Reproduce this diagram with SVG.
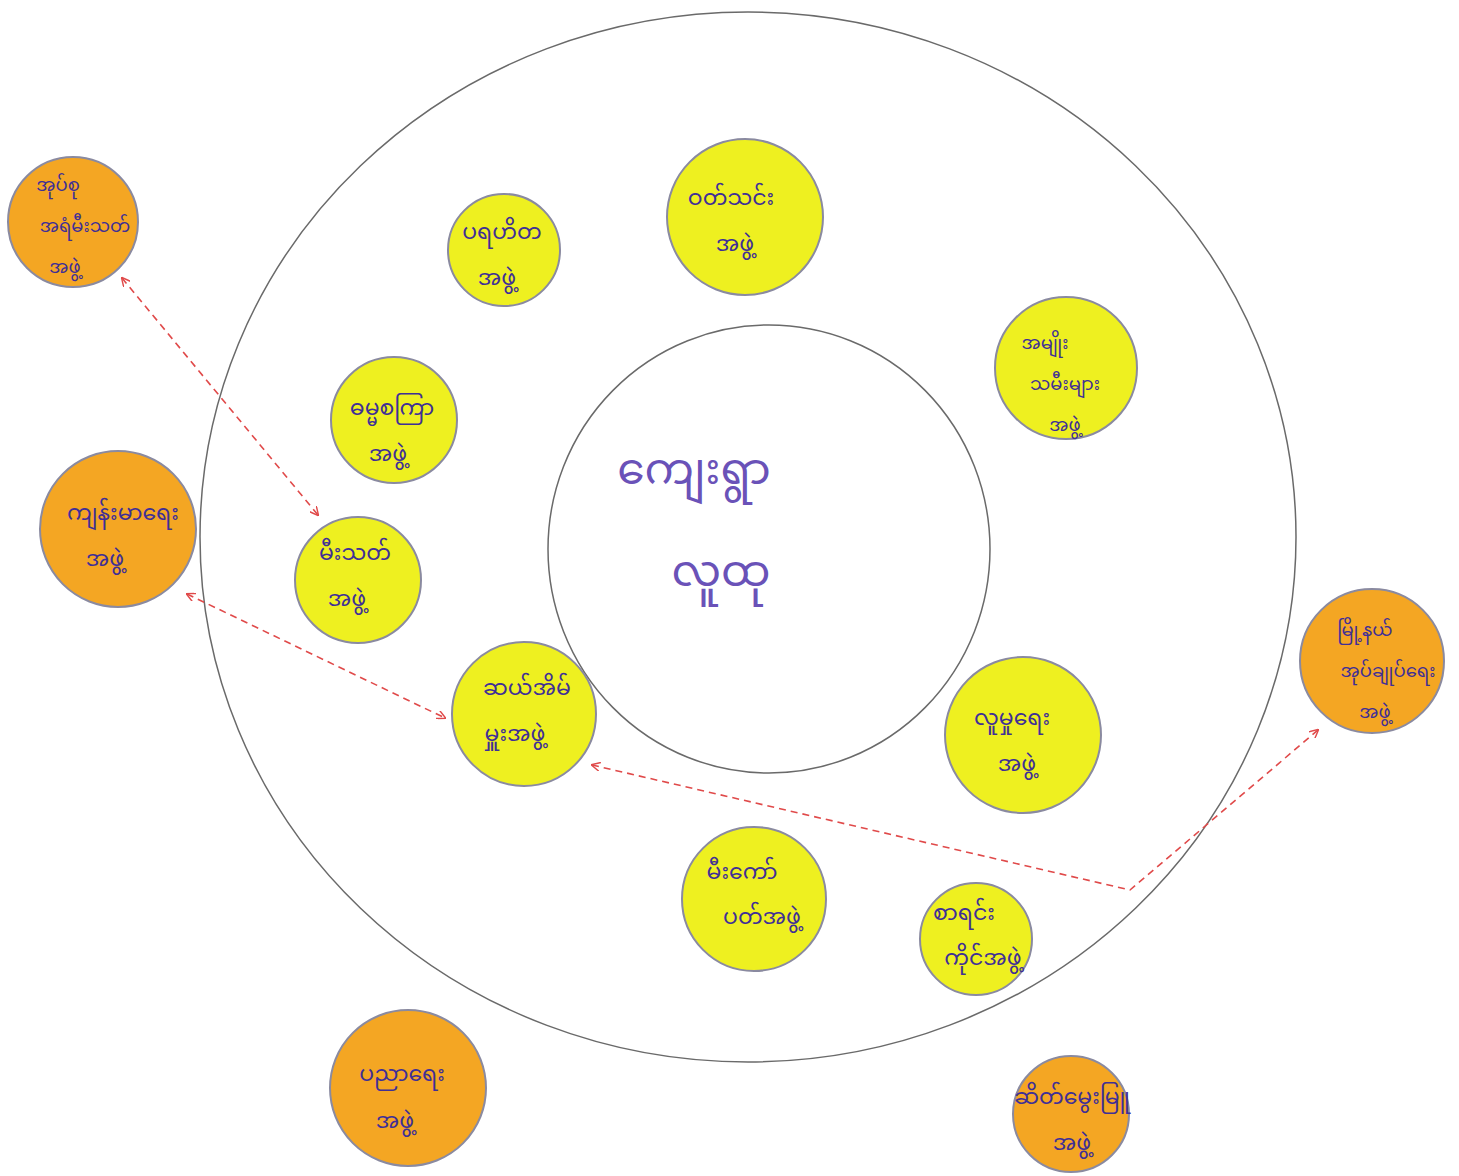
<svg xmlns="http://www.w3.org/2000/svg" width="1459" height="1176" viewBox="0 0 1459 1176">
<style>
.ring{fill:none;stroke:#6a6a6a;stroke-width:1.5}
.y{fill:#eef020;stroke:#8a8aa0;stroke-width:2}
.o{fill:#f4a623;stroke:#8a8aa0;stroke-width:2}
.t{font-family:"Noto Sans Myanmar","Padauk","Myanmar Text","Noto Sans",sans-serif;fill:#3f2f96;text-anchor:middle;font-size:22px}
.s{font-size:18px}
.big{font-size:44px;fill:#6a52b8}
.c{fill:none;stroke:#e04a4a;stroke-width:1.6;stroke-dasharray:7 5}
</style>
<defs>
<marker id="ah" viewBox="0 0 10 10" refX="9" refY="5" markerWidth="9" markerHeight="9" orient="auto-start-reverse" markerUnits="userSpaceOnUse">
<path d="M0,0 L10,5 L0,10" fill="none" stroke="#e04a4a" stroke-width="1.6"/>
</marker>
</defs>
<rect width="1459" height="1176" fill="#ffffff"/>
<g id="outer-ring"><ellipse class="ring" cx="748" cy="537" rx="548" ry="525"/></g>
<g id="center">
<ellipse class="ring" cx="769" cy="549" rx="221" ry="224"/>
<text class="t big" x="694" y="484">ကျေးရွာ</text>
<text class="t big" x="721" y="586">လူထု</text>
</g>
<g id="n-parahita"><circle class="y" cx="504" cy="250" r="56"/><text class="t" x="502" y="239">ပရဟိတ</text><text class="t" x="497" y="285">အဖွဲ့</text></g>
<g id="n-watthin"><circle class="y" cx="745" cy="217" r="78"/><text class="t" x="731" y="205">ဝတ်သင်း</text><text class="t" x="735" y="251">အဖွဲ့</text></g>
<g id="n-women"><circle class="y" cx="1066" cy="368" r="71"/><text class="t s" x="1045" y="349">အမျိုး</text><text class="t s" x="1065" y="390">သမီးများ</text><text class="t s" x="1065" y="431">အဖွဲ့</text></g>
<g id="n-dhamma"><circle class="y" cx="394" cy="420" r="63"/><text class="t" x="392" y="415">ဓမ္မစကြာ</text><text class="t" x="388" y="461">အဖွဲ့</text></g>
<g id="n-fire"><circle class="y" cx="358" cy="580" r="63"/><text class="t" x="355" y="560">မီးသတ်</text><text class="t" x="347" y="606">အဖွဲ့</text></g>
<g id="n-tenhouse"><circle class="y" cx="524" cy="714" r="72"/><text class="t" x="527" y="695">ဆယ်အိမ်</text><text class="t" x="515" y="741">မှူးအဖွဲ့</text></g>
<g id="n-social"><circle class="y" cx="1023" cy="735" r="78"/><text class="t" x="1012" y="725">လူမှုရေး</text><text class="t" x="1017" y="771">အဖွဲ့</text></g>
<g id="n-mikaw"><circle class="y" cx="754" cy="899" r="72"/><text class="t" x="742" y="879">မီးကော်</text><text class="t" x="762" y="924">ပတ်အဖွဲ့</text></g>
<g id="n-account"><circle class="y" cx="976" cy="939" r="56"/><text class="t" x="964" y="920">စာရင်း</text><text class="t" x="983" y="965">ကိုင်အဖွဲ့</text></g>
<g id="n-reserve-fire"><circle class="o" cx="73" cy="222" r="65"/><text class="t s" x="58" y="191">အုပ်စု</text><text class="t s" x="85" y="232">အရံမီးသတ်</text><text class="t s" x="65" y="273">အဖွဲ့</text></g>
<g id="n-health"><circle class="o" cx="118" cy="529" r="78"/><text class="t" x="123" y="520">ကျန်းမာရေး</text><text class="t" x="105" y="566">အဖွဲ့</text></g>
<g id="n-township"><circle class="o" cx="1372" cy="661" r="72"/><text class="t s" x="1365" y="636">မြို့နယ်</text><text class="t s" x="1388" y="677">အုပ်ချုပ်ရေး</text><text class="t s" x="1375" y="718">အဖွဲ့</text></g>
<g id="n-education"><circle class="o" cx="408" cy="1088" r="78"/><text class="t" x="402" y="1081">ပညာရေး</text><text class="t" x="395" y="1128">အဖွဲ့</text></g>
<g id="n-goat"><circle class="o" cx="1071" cy="1114" r="58"/><text class="t" x="1072" y="1104">ဆိတ်မွေးမြူ</text><text class="t" x="1072" y="1150">အဖွဲ့</text></g>
<g id="connectors">
<line class="c" x1="122" y1="278" x2="318" y2="515" marker-start="url(#ah)" marker-end="url(#ah)"/>
<line class="c" x1="187" y1="594" x2="445" y2="718" marker-start="url(#ah)" marker-end="url(#ah)"/>
<polyline class="c" points="592,765 1130,890 1318,730" marker-start="url(#ah)" marker-end="url(#ah)"/>
</g>
</svg>
